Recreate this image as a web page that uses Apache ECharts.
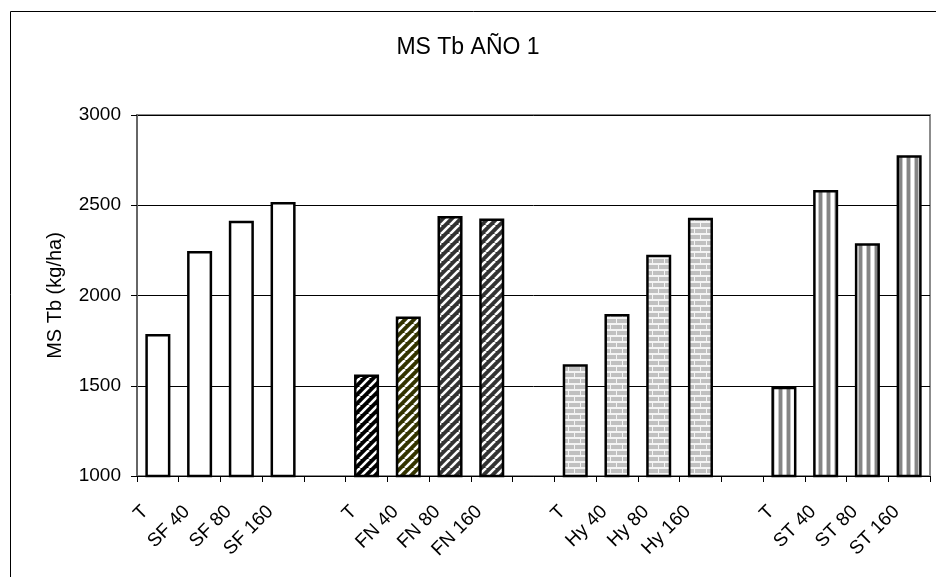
<!DOCTYPE html>
<html>
<head>
<meta charset="utf-8">
<script src="https://cdn.jsdelivr.net/npm/echarts@6/dist/echarts.min.js"></script>
<style>
html,body{margin:0;padding:0;background:#fff;}
#chart{width:936px;height:577px;}
</style>
</head>
<body>
<div id="chart"></div>
<script>
// ---- data ----
const categories = ['T','SF 40','SF 80','SF 160','','T','FN 40','FN 80','FN 160','','T','Hy 40','Hy 80','Hy 160','','T','ST 40','ST 80','ST 160'];
const sfValues = [1787, 2246, 2414, 2518];
const fnValues = [1563, 1883, 2440, 2426];
const hyValues = [1619, 1897, 2226, 2431];
const stValues = [1495, 2584, 2289, 2777];
const yMin = 1000, yMax = 3000, yStep = 500;
const titleText = 'MS Tb AÑO 1';
const yAxisTitle = 'MS Tb (kg/ha)';

// ---- patterns ----
function makeCanvas(w, h) {
  const c = document.createElement('canvas');
  c.width = w; c.height = h;
  return c;
}
function diagPattern(bg) {
  const s = 9;
  const c = makeCanvas(s, s), g = c.getContext('2d');
  g.fillStyle = bg; g.fillRect(0, 0, s, s);
  g.strokeStyle = '#ffffff'; g.lineWidth = 2.6;
  [-s, 0, s].forEach(dx => {
    g.beginPath(); g.moveTo(dx, s); g.lineTo(dx + s, 0); g.stroke();
  });
  return { image: c, repeat: 'repeat' };
}
function brickPattern() {
  const w = 12, h = 12;
  const c = makeCanvas(w, h), g = c.getContext('2d');
  g.fillStyle = '#f4f4f4'; g.fillRect(0, 0, w, h);
  g.fillStyle = '#c0c0c0';
  g.fillRect(0, 1, 10, 4);
  g.fillRect(11, 1, 1, 4);
  g.fillRect(0, 7, 4, 4);
  g.fillRect(5, 7, 7, 4);
  return { image: c, repeat: 'repeat' };
}
function vstripePattern() {
  const w = 8, h = 4;
  const c = makeCanvas(w, h), g = c.getContext('2d');
  g.fillStyle = '#ffffff'; g.fillRect(0, 0, w, h);
  g.fillStyle = '#c8c8c8'; g.fillRect(2, 0, 1, h); g.fillRect(6, 0, 1, h);
  g.fillStyle = '#858585'; g.fillRect(3, 0, 3, h);
  return { image: c, repeat: 'repeat' };
}

const white = '#ffffff';
const fnColors = [diagPattern('#000000'), diagPattern('#333300'), diagPattern('#333333'), diagPattern('#333333')];
const brick = brickPattern();
const vstripe = vstripePattern();

const data = [];
function pushGroup(vals, colorFn) {
  vals.forEach((v, i) => data.push({ value: v, itemStyle: { color: colorFn(i) } }));
}
pushGroup(sfValues, () => white);
data.push(null);
pushGroup(fnValues, i => fnColors[i]);
data.push(null);
pushGroup(hyValues, () => brick);
data.push(null);
pushGroup(stValues, () => vstripe);

const chart = echarts.init(document.getElementById('chart'), null, { renderer: 'canvas' });
const font = 'Liberation Sans, Arial, sans-serif';
chart.setOption({
  animation: false,
  backgroundColor: '#ffffff',
  title: {
    text: titleText,
    left: 'center',
    top: 31,
    textStyle: { fontFamily: font, fontSize: 23, fontWeight: 'normal', color: '#000' }
  },
  graphic: [{
    type: 'rect',
    shape: { x: 10.5, y: 11.5, width: 1000, height: 1000 },
    style: { fill: 'none', stroke: '#000', lineWidth: 1 },
    silent: true, z: -1
  }],
  grid: {
    left: 137, right: 6, top: 115, bottom: 101,
    show: true, borderColor: '#8c8c8c', borderWidth: 2, backgroundColor: 'transparent'
  },
  xAxis: {
    type: 'category',
    data: categories,
    axisLine: { lineStyle: { color: '#000', width: 1 } },
    axisTick: { show: true, interval: 0, length: 6, lineStyle: { color: '#000' } },
    axisLabel: {
      interval: 0, rotate: 45, margin: 20,
      fontFamily: font, fontSize: 19, color: '#000',
      padding: [0, 18, 0, 0]
    },
    splitLine: { show: false }
  },
  yAxis: {
    type: 'value',
    min: yMin, max: yMax, interval: yStep,
    name: yAxisTitle,
    nameLocation: 'middle',
    nameGap: 72,
    nameRotate: 90,
    nameTextStyle: { fontFamily: font, fontSize: 20, color: '#000' },
    axisLine: { show: true, lineStyle: { color: '#666', width: 2 } },
    axisTick: { show: true, length: 6, lineStyle: { color: '#000' } },
    axisLabel: { margin: 16, fontFamily: font, fontSize: 19, color: '#000', formatter: v => String(v) },
    splitLine: { show: true, lineStyle: { color: '#000', width: 1 } }
  },
  series: [{
    type: 'bar',
    data: data,
    barWidth: '60%',
    itemStyle: { borderColor: '#000', borderWidth: 2.5 }
  }]
});
</script>
</body>
</html>
